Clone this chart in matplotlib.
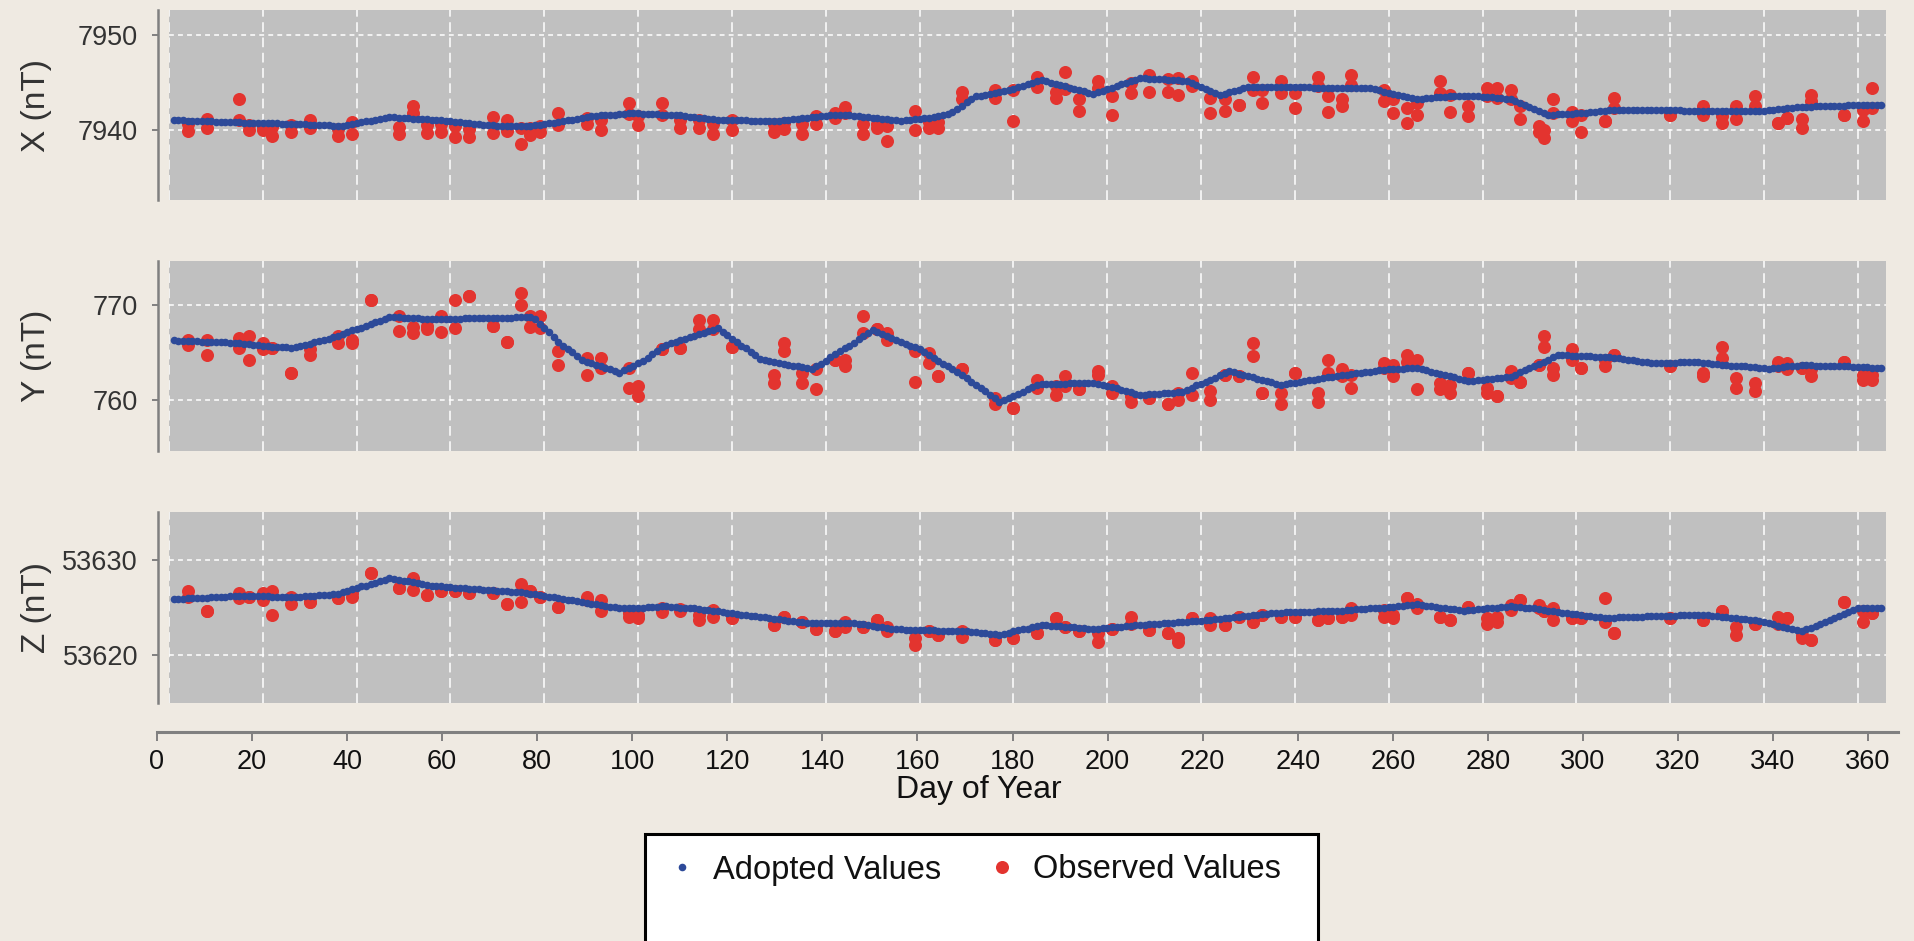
import numpy as np
import matplotlib
matplotlib.use("Agg")
import matplotlib.pyplot as plt
from matplotlib.ticker import MultipleLocator
from matplotlib.patches import Rectangle

plt.rcParams['font.family'] = ['Liberation Sans', 'DejaVu Sans']
plt.rcParams['lines.scale_dashes'] = False

# ---------------------------------------------------------------------------
# Data
# ---------------------------------------------------------------------------
adopted_day = np.arange(1, 366)

x_adopted = [
    7941.0, 7941.0, 7941.0, 7940.9, 7940.9, 7940.9, 7940.9, 7940.9, 7940.9, 7940.8,
    7940.8, 7940.8, 7940.8, 7940.8, 7940.8, 7940.7, 7940.7, 7940.7, 7940.7, 7940.7,
    7940.7, 7940.7, 7940.7, 7940.6, 7940.6, 7940.6, 7940.6, 7940.6, 7940.6, 7940.5,
    7940.5, 7940.5, 7940.5, 7940.5, 7940.4, 7940.4, 7940.4, 7940.5, 7940.6, 7940.7,
    7940.8, 7940.9, 7940.9, 7941.0, 7941.1, 7941.2, 7941.3, 7941.3, 7941.2, 7941.2,
    7941.2, 7941.1, 7941.1, 7941.1, 7941.1, 7941.0, 7941.0, 7941.0, 7940.9, 7940.9,
    7940.8, 7940.8, 7940.7, 7940.7, 7940.6, 7940.6, 7940.5, 7940.5, 7940.5, 7940.4,
    7940.4, 7940.4, 7940.4, 7940.4, 7940.4, 7940.4, 7940.4, 7940.5, 7940.5, 7940.6,
    7940.7, 7940.7, 7940.8, 7940.9, 7941.0, 7941.0, 7941.1, 7941.2, 7941.3, 7941.4,
    7941.4, 7941.5, 7941.5, 7941.6, 7941.6, 7941.7, 7941.7, 7941.8, 7941.8, 7941.8,
    7941.7, 7941.7, 7941.7, 7941.7, 7941.6, 7941.6, 7941.6, 7941.5, 7941.5, 7941.4,
    7941.3, 7941.3, 7941.2, 7941.2, 7941.1, 7941.1, 7941.0, 7941.0, 7941.0, 7941.0,
    7941.0, 7941.0, 7941.0, 7940.9, 7940.9, 7940.9, 7940.9, 7940.9, 7940.9, 7940.9,
    7941.0, 7941.0, 7941.1, 7941.1, 7941.2, 7941.2, 7941.3, 7941.3, 7941.4, 7941.4,
    7941.5, 7941.5, 7941.6, 7941.5, 7941.5, 7941.4, 7941.4, 7941.3, 7941.3, 7941.2,
    7941.2, 7941.1, 7941.1, 7941.0, 7941.0, 7940.9, 7941.0, 7941.0, 7941.1, 7941.1,
    7941.2, 7941.2, 7941.3, 7941.4, 7941.6, 7941.7, 7941.9, 7942.2, 7942.5, 7942.9,
    7943.2, 7943.5, 7943.6, 7943.7, 7943.8, 7943.9, 7944.0, 7944.1, 7944.2, 7944.3,
    7944.5, 7944.6, 7944.8, 7944.9, 7945.1, 7945.2, 7945.1, 7944.9, 7944.8, 7944.7,
    7944.6, 7944.4, 7944.3, 7944.2, 7944.1, 7943.9, 7943.8, 7944.0, 7944.1, 7944.3,
    7944.4, 7944.6, 7944.8, 7944.9, 7945.1, 7945.2, 7945.4, 7945.4, 7945.3, 7945.3,
    7945.3, 7945.3, 7945.2, 7945.2, 7945.2, 7945.1, 7945.1, 7944.9, 7944.7, 7944.5,
    7944.3, 7944.1, 7943.9, 7943.7, 7943.8, 7944.0, 7944.1, 7944.2, 7944.4, 7944.5,
    7944.5, 7944.5, 7944.5, 7944.5, 7944.5, 7944.5, 7944.5, 7944.5, 7944.5, 7944.5,
    7944.5, 7944.5, 7944.5, 7944.4, 7944.4, 7944.4, 7944.4, 7944.4, 7944.4, 7944.4,
    7944.4, 7944.4, 7944.4, 7944.4, 7944.4, 7944.4, 7944.3, 7944.2, 7944.0, 7943.9,
    7943.8, 7943.7, 7943.6, 7943.4, 7943.3, 7943.2, 7943.2, 7943.3, 7943.3, 7943.4,
    7943.4, 7943.4, 7943.5, 7943.5, 7943.6, 7943.6, 7943.6, 7943.5, 7943.5, 7943.4,
    7943.4, 7943.4, 7943.3, 7943.3, 7943.2, 7943.2, 7943.0, 7942.8, 7942.6, 7942.4,
    7942.2, 7942.0, 7941.8, 7941.6, 7941.6, 7941.7, 7941.7, 7941.7, 7941.7, 7941.8,
    7941.8, 7941.8, 7941.9, 7941.9, 7942.0, 7942.0, 7942.1, 7942.1, 7942.1, 7942.1,
    7942.1, 7942.1, 7942.1, 7942.1, 7942.1, 7942.1, 7942.1, 7942.1, 7942.1, 7942.1,
    7942.1, 7942.1, 7942.0, 7942.0, 7942.0, 7942.0, 7942.0, 7942.0, 7942.0, 7942.0,
    7942.0, 7942.0, 7942.0, 7942.0, 7942.0, 7942.0, 7942.0, 7942.0, 7942.0, 7942.0,
    7942.1, 7942.1, 7942.2, 7942.2, 7942.3, 7942.3, 7942.4, 7942.4, 7942.4, 7942.4,
    7942.5, 7942.5, 7942.5, 7942.5, 7942.5, 7942.5, 7942.5, 7942.6, 7942.6, 7942.6,
    7942.6, 7942.6, 7942.6, 7942.6, 7942.6,
]

y_adopted = [
    766.3, 766.2, 766.2, 766.2, 766.2, 766.2, 766.1, 766.1, 766.1, 766.1,
    766.1, 766.1, 766.0, 766.0, 766.0, 765.9, 765.9, 765.8, 765.8, 765.7,
    765.7, 765.6, 765.6, 765.5, 765.5, 765.4, 765.5, 765.7, 765.8, 765.9,
    766.1, 766.2, 766.3, 766.4, 766.6, 766.7, 766.9, 767.1, 767.3, 767.4,
    767.6, 767.8, 768.0, 768.2, 768.3, 768.5, 768.7, 768.7, 768.7, 768.6,
    768.6, 768.6, 768.6, 768.5, 768.5, 768.5, 768.5, 768.5, 768.5, 768.5,
    768.5, 768.5, 768.6, 768.6, 768.6, 768.6, 768.6, 768.6, 768.6, 768.6,
    768.6, 768.6, 768.6, 768.7, 768.7, 768.7, 768.7, 768.5, 768.0, 767.6,
    767.1, 766.6, 766.1, 765.7, 765.3, 765.0, 764.6, 764.2, 764.0, 763.9,
    763.7, 763.5, 763.3, 763.2, 763.0, 762.8, 763.1, 763.3, 763.6, 763.9,
    764.1, 764.4, 764.8, 765.1, 765.5, 765.8, 766.0, 766.1, 766.3, 766.4,
    766.6, 766.7, 766.9, 767.0, 767.2, 767.3, 767.5, 767.1, 766.8, 766.4,
    766.1, 765.7, 765.4, 765.0, 764.7, 764.3, 764.2, 764.1, 764.0, 763.9,
    763.8, 763.7, 763.6, 763.5, 763.4, 763.3, 763.2, 763.5, 763.8, 764.1,
    764.5, 764.8, 765.1, 765.4, 765.7, 766.0, 766.4, 766.7, 767.0, 767.3,
    767.1, 766.9, 766.7, 766.5, 766.3, 766.1, 765.9, 765.7, 765.5, 765.3,
    765.0, 764.7, 764.4, 764.1, 763.8, 763.5, 763.2, 762.9, 762.6, 762.3,
    761.9, 761.6, 761.2, 760.9, 760.5, 760.2, 759.8, 760.0, 760.2, 760.4,
    760.6, 760.8, 761.1, 761.3, 761.5, 761.7, 761.7, 761.7, 761.7, 761.7,
    761.7, 761.8, 761.8, 761.8, 761.8, 761.8, 761.8, 761.7, 761.5, 761.4,
    761.3, 761.2, 761.0, 760.9, 760.8, 760.6, 760.5, 760.5, 760.6, 760.6,
    760.6, 760.7, 760.7, 760.7, 760.8, 760.8, 761.0, 761.2, 761.5, 761.7,
    761.9, 762.1, 762.3, 762.6, 762.8, 763.0, 762.9, 762.7, 762.6, 762.5,
    762.4, 762.2, 762.1, 762.0, 761.9, 761.7, 761.6, 761.7, 761.8, 761.8,
    761.9, 762.0, 762.1, 762.1, 762.2, 762.3, 762.4, 762.4, 762.5, 762.6,
    762.6, 762.7, 762.8, 762.8, 762.9, 762.9, 763.0, 763.1, 763.1, 763.2,
    763.2, 763.2, 763.2, 763.3, 763.3, 763.3, 763.2, 763.1, 762.9, 762.8,
    762.7, 762.6, 762.5, 762.4, 762.2, 762.1, 762.0, 762.0, 762.1, 762.1,
    762.2, 762.2, 762.3, 762.3, 762.4, 762.4, 762.6, 762.9, 763.1, 763.3,
    763.6, 763.8, 764.0, 764.2, 764.5, 764.7, 764.7, 764.7, 764.6, 764.6,
    764.6, 764.6, 764.6, 764.5, 764.5, 764.5, 764.5, 764.4, 764.4, 764.3,
    764.2, 764.2, 764.1, 764.0, 764.0, 763.9, 763.9, 763.9, 763.9, 763.9,
    763.9, 764.0, 764.0, 764.0, 764.0, 764.0, 763.9, 763.9, 763.8, 763.8,
    763.7, 763.7, 763.6, 763.6, 763.5, 763.5, 763.4, 763.4, 763.3, 763.3,
    763.2, 763.3, 763.3, 763.4, 763.5, 763.6, 763.6, 763.7, 763.7, 763.7,
    763.6, 763.6, 763.6, 763.6, 763.5, 763.5, 763.5, 763.5, 763.4, 763.4,
    763.4, 763.4, 763.3, 763.3, 763.3,
]

z_adopted = [
    53625.9, 53625.9, 53625.9, 53626.0, 53626.0, 53626.0, 53626.0, 53626.0, 53626.1, 53626.1,
    53626.1, 53626.1, 53626.2, 53626.2, 53626.2, 53626.2, 53626.2, 53626.2, 53626.2, 53626.2,
    53626.2, 53626.1, 53626.1, 53626.1, 53626.1, 53626.1, 53626.1, 53626.1, 53626.2, 53626.2,
    53626.2, 53626.3, 53626.3, 53626.3, 53626.4, 53626.4, 53626.6, 53626.7, 53626.9, 53627.0,
    53627.2, 53627.3, 53627.5, 53627.6, 53627.8, 53627.9, 53628.1, 53628.0, 53627.9, 53627.8,
    53627.8, 53627.7, 53627.6, 53627.5, 53627.4, 53627.3, 53627.3, 53627.2, 53627.1, 53627.1,
    53627.0, 53627.0, 53627.0, 53626.9, 53626.9, 53626.9, 53626.8, 53626.8, 53626.8, 53626.7,
    53626.7, 53626.7, 53626.6, 53626.6, 53626.6, 53626.5, 53626.4, 53626.4, 53626.3, 53626.2,
    53626.1, 53626.1, 53626.0, 53625.9, 53625.8, 53625.8, 53625.7, 53625.6, 53625.5, 53625.4,
    53625.4, 53625.3, 53625.2, 53625.1, 53625.1, 53625.0, 53624.9, 53624.9, 53625.0, 53625.0,
    53625.0, 53625.1, 53625.1, 53625.1, 53625.2, 53625.2, 53625.1, 53625.1, 53625.0, 53625.0,
    53624.9, 53624.9, 53624.8, 53624.7, 53624.7, 53624.6, 53624.6, 53624.5, 53624.4, 53624.4,
    53624.3, 53624.2, 53624.2, 53624.1, 53624.1, 53624.0, 53624.0, 53623.9, 53623.8, 53623.8,
    53623.7, 53623.6, 53623.6, 53623.5, 53623.5, 53623.4, 53623.4, 53623.4, 53623.4, 53623.4,
    53623.4, 53623.4, 53623.4, 53623.4, 53623.4, 53623.4, 53623.3, 53623.3, 53623.2, 53623.1,
    53623.0, 53623.0, 53622.9, 53622.8, 53622.7, 53622.7, 53622.6, 53622.6, 53622.6, 53622.6,
    53622.6, 53622.6, 53622.6, 53622.5, 53622.5, 53622.5, 53622.5, 53622.5, 53622.5, 53622.5,
    53622.4, 53622.4, 53622.3, 53622.3, 53622.2, 53622.2, 53622.1, 53622.2, 53622.3, 53622.5,
    53622.6, 53622.7, 53622.8, 53623.0, 53623.1, 53623.2, 53623.2, 53623.1, 53623.1, 53623.1,
    53623.0, 53623.0, 53623.0, 53622.9, 53622.9, 53622.8, 53622.8, 53622.8, 53622.9, 53622.9,
    53623.0, 53623.0, 53623.0, 53623.1, 53623.1, 53623.2, 53623.2, 53623.2, 53623.3, 53623.3,
    53623.3, 53623.4, 53623.4, 53623.4, 53623.5, 53623.5, 53623.5, 53623.6, 53623.6, 53623.6,
    53623.7, 53623.7, 53623.8, 53623.8, 53623.9, 53623.9, 53624.0, 53624.0, 53624.1, 53624.1,
    53624.2, 53624.2, 53624.3, 53624.3, 53624.4, 53624.4, 53624.4, 53624.5, 53624.5, 53624.5,
    53624.5, 53624.5, 53624.5, 53624.5, 53624.6, 53624.6, 53624.6, 53624.6, 53624.6, 53624.6,
    53624.7, 53624.7, 53624.8, 53624.8, 53624.8, 53624.9, 53624.9, 53625.0, 53625.0, 53625.1,
    53625.1, 53625.2, 53625.2, 53625.3, 53625.3, 53625.4, 53625.3, 53625.2, 53625.2, 53625.1,
    53625.0, 53624.9, 53624.8, 53624.8, 53624.7, 53624.6, 53624.7, 53624.7, 53624.8, 53624.8,
    53624.9, 53625.0, 53625.0, 53625.1, 53625.1, 53625.2, 53625.1, 53625.1, 53625.0, 53624.9,
    53624.9, 53624.8, 53624.7, 53624.6, 53624.6, 53624.5, 53624.4, 53624.4, 53624.3, 53624.3,
    53624.2, 53624.1, 53624.1, 53624.0, 53624.0, 53623.9, 53623.9, 53623.9, 53624.0, 53624.0,
    53624.0, 53624.0, 53624.0, 53624.0, 53624.1, 53624.1, 53624.1, 53624.1, 53624.1, 53624.1,
    53624.1, 53624.2, 53624.2, 53624.2, 53624.2, 53624.2, 53624.2, 53624.2, 53624.1, 53624.1,
    53624.0, 53624.0, 53623.9, 53623.9, 53623.8, 53623.8, 53623.7, 53623.7, 53623.6, 53623.5,
    53623.4, 53623.3, 53623.1, 53623.0, 53622.9, 53622.8, 53622.6, 53622.5, 53622.7, 53622.9,
    53623.1, 53623.3, 53623.5, 53623.7, 53623.9, 53624.1, 53624.3, 53624.5, 53624.7, 53624.9,
    53624.9, 53624.9, 53624.9, 53624.9, 53624.9,
]

# Days on which absolute observations were taken (two measurements per day)
obs_day = [
    4, 8, 15, 17, 20, 22, 26, 30, 36, 39,
    43, 49, 52, 55, 58, 61, 64, 69, 72, 75,
    77, 79, 83, 89, 92, 98, 100, 105, 109, 113,
    116, 120, 129, 131, 135, 138, 142, 144, 148, 151,
    153, 159, 162, 164, 169, 176, 180, 185, 189, 191,
    194, 198, 201, 205, 209, 213, 215, 218, 222, 225,
    228, 231, 233, 237, 240, 245, 247, 250, 252, 259,
    261, 264, 266, 271, 273, 277, 281, 283, 286, 288,
    292, 293, 295, 299, 301, 306, 308, 320, 327, 331,
    334, 338, 343, 345, 348, 350, 357, 361, 363,
]

nan = np.nan
x_obs_first = [
    7940.6, 7941.1, 7943.2, 7940.5, 7940.3, 7940.3, 7940.5, 7941.0, 7940.1, 7940.8,
    nan, 7940.3, 7942.5, 7940.5, 7940.6, 7940.4, 7940.1, 7941.3, 7941.0, 7940.2,
    7940.2, 7940.4, 7941.8, 7941.2, 7941.0, 7942.8, 7941.4, 7942.8, 7941.0, 7941.0,
    7940.6, 7941.0, 7940.6, 7940.7, 7940.6, 7941.4, 7941.8, 7942.4, 7940.6, 7940.6,
    7940.4, 7942.0, 7940.8, 7940.8, 7944.0, 7944.2, 7944.2, 7945.6, 7944.0, 7946.1,
    7943.2, 7945.1, 7943.5, 7944.9, 7945.8, 7945.3, 7945.4, 7945.1, 7943.3, 7943.2,
    7942.6, 7945.6, 7944.2, 7945.1, 7943.9, 7945.6, 7943.5, 7943.2, 7945.8, 7944.2,
    7943.2, 7942.3, 7942.8, 7945.1, 7943.7, 7942.5, 7944.4, 7944.4, 7944.2, 7942.5,
    7940.4, 7940.0, 7943.2, 7941.9, 7941.6, 7940.9, 7943.3, 7941.6, 7942.5, 7941.4,
    7942.5, 7943.5, 7940.7, 7941.2, 7941.1, 7943.7, 7941.6, 7942.1, 7944.4,
]
x_obs_second = [
    7939.9, 7940.2, 7941.0, 7940.0, 7940.0, 7939.3, 7939.8, 7940.2, 7939.3, 7939.6,
    nan, 7939.6, 7941.8, 7939.7, 7939.8, 7939.2, 7939.2, 7939.7, 7939.9, 7938.5,
    7939.4, 7939.8, 7940.5, 7940.6, 7940.0, 7941.7, 7940.5, 7941.5, 7940.2, 7940.2,
    7939.6, 7940.0, 7939.8, 7940.1, 7939.6, 7940.6, 7941.2, 7941.8, 7939.6, 7940.2,
    7938.8, 7940.0, 7940.2, 7940.2, 7943.2, 7943.3, 7940.9, 7944.5, 7943.3, 7944.3,
    7942.0, 7944.4, 7941.6, 7943.9, 7944.0, 7944.0, 7943.7, 7944.6, 7941.8, 7942.0,
    7942.6, 7944.2, 7942.8, 7943.9, 7942.3, 7944.6, 7941.9, 7942.5, 7944.7, 7943.0,
    7941.8, 7940.7, 7941.6, 7943.9, 7941.9, 7941.4, 7943.5, 7943.3, 7943.2, 7941.1,
    7939.8, 7939.1, 7941.8, 7940.9, 7939.8, 7940.9, 7942.3, 7941.6, 7941.6, 7940.7,
    7941.1, 7942.5, 7940.7, 7941.2, 7940.2, 7943.0, 7941.6, 7940.9, 7942.3,
]

y_obs_first = [
    766.3, 766.3, 766.5, 766.7, 766.0, 765.4, 762.8, 765.3, 766.7, 766.3,
    770.5, 768.8, 767.7, 767.8, 768.8, 770.5, 770.9, 767.8, 766.1, 771.2,
    768.8, 768.8, 765.1, 764.4, 764.4, 763.3, 761.4, 765.3, 765.4, 768.4,
    768.4, 765.6, 762.6, 766.0, 762.8, 763.2, 764.2, 764.2, 768.8, 767.4,
    767.0, 765.1, 764.9, 762.5, 763.2, 760.2, 759.1, 762.1, 761.4, 762.5,
    761.1, 763.0, 761.4, 760.4, 760.2, 759.6, 760.7, 762.8, 760.9, 762.6,
    762.5, 766.0, 760.7, 760.7, 762.8, 760.7, 764.2, 763.2, 762.6, 763.9,
    763.7, 764.7, 764.2, 761.8, 761.6, 762.8, 761.2, 760.4, 763.0, 761.9,
    763.7, 766.7, 763.3, 765.3, 763.3, 764.2, 764.7, 763.5, 762.8, 765.6,
    762.3, 761.8, 764.0, 763.9, 763.3, 763.2, 764.0, 762.6, 762.6,
]
y_obs_second = [
    765.8, 764.7, 765.4, 764.2, 765.3, 765.4, 762.8, 764.7, 766.0, 766.0,
    770.5, 767.2, 767.0, 767.4, 767.1, 767.5, 770.9, 767.8, 766.1, 770.0,
    767.7, 767.5, 763.7, 762.6, 763.3, 761.2, 760.4, 765.3, 765.4, 767.4,
    767.4, 765.6, 761.8, 765.1, 761.8, 761.1, 764.2, 763.5, 767.0, 767.4,
    766.3, 761.9, 763.9, 762.5, 763.2, 759.6, 759.1, 761.2, 760.5, 761.4,
    761.1, 762.6, 760.7, 759.8, 760.2, 759.6, 760.0, 760.5, 760.0, 762.6,
    762.5, 764.6, 760.7, 759.5, 762.8, 759.8, 762.8, 762.5, 761.2, 763.3,
    762.5, 764.0, 761.1, 761.1, 760.7, 762.8, 760.7, 760.4, 762.3, 761.9,
    763.7, 765.6, 762.6, 764.2, 763.3, 763.5, 764.7, 763.5, 762.5, 764.4,
    761.2, 760.9, 763.5, 763.2, 763.3, 762.5, 764.0, 762.1, 762.1,
]

z_obs_first = [
    53626.7, 53624.6, 53626.5, 53626.1, 53626.5, 53626.7, 53626.1, 53625.6, 53626.0, 53626.5,
    53628.6, 53627.0, 53628.1, 53626.3, 53626.7, 53626.7, 53626.5, 53626.5, 53625.4, 53627.5,
    53626.7, 53626.1, 53625.1, 53626.1, 53625.8, 53624.4, 53624.2, 53625.0, 53624.8, 53624.2,
    53624.7, 53623.9, 53623.2, 53624.0, 53623.5, 53622.8, 53622.5, 53623.5, 53623.0, 53623.7,
    53623.0, 53621.8, 53622.5, 53622.1, 53622.5, 53621.6, 53621.8, 53622.3, 53623.9, 53623.0,
    53622.5, 53622.3, 53622.8, 53624.0, 53622.6, 53622.3, 53621.8, 53623.9, 53623.9, 53623.2,
    53624.0, 53623.5, 53624.2, 53624.0, 53624.0, 53623.7, 53623.9, 53624.0, 53624.9, 53624.7,
    53624.2, 53626.0, 53625.4, 53624.0, 53623.7, 53625.1, 53623.9, 53624.0, 53625.3, 53625.8,
    53625.3, 53624.6, 53624.9, 53623.9, 53623.9, 53626.0, 53622.3, 53623.9, 53623.7, 53624.6,
    53623.0, 53623.3, 53624.0, 53623.9, 53622.1, 53621.6, 53625.6, 53624.6, 53624.4,
]
z_obs_second = [
    53626.1, 53624.6, 53626.0, 53626.1, 53625.8, 53624.2, 53625.4, 53625.6, 53626.0, 53626.1,
    53628.6, 53627.0, 53626.8, 53626.3, 53626.7, 53626.7, 53626.5, 53626.5, 53625.4, 53625.6,
    53626.7, 53626.1, 53625.1, 53625.8, 53624.6, 53624.0, 53623.9, 53624.5, 53624.6, 53623.7,
    53624.0, 53623.9, 53623.2, 53624.0, 53623.5, 53622.8, 53622.5, 53623.0, 53623.0, 53623.7,
    53622.5, 53621.1, 53622.5, 53622.1, 53621.9, 53621.6, 53621.8, 53622.3, 53623.9, 53623.0,
    53622.5, 53621.4, 53622.8, 53623.3, 53622.6, 53622.3, 53621.4, 53623.9, 53623.2, 53623.2,
    53624.0, 53623.5, 53624.2, 53624.0, 53624.0, 53623.7, 53623.9, 53624.0, 53624.2, 53624.0,
    53623.9, 53626.0, 53624.9, 53624.0, 53623.7, 53625.1, 53623.3, 53623.5, 53624.7, 53625.8,
    53624.9, 53624.6, 53623.7, 53623.9, 53623.9, 53623.5, 53622.3, 53623.9, 53623.7, 53624.6,
    53622.1, 53623.3, 53623.3, 53623.9, 53621.8, 53621.6, 53625.6, 53623.5, 53624.4,
]

component_labels = ['X (nT)', 'Y (nT)', 'Z (nT)']
day_ticks = list(range(0, 361, 20))
legend_labels = ['Adopted Values', 'Observed Values']

for seq in (x_adopted, y_adopted, z_adopted):
    assert len(seq) == len(adopted_day)
for seq in (x_obs_first, x_obs_second, y_obs_first, y_obs_second, z_obs_first, z_obs_second):
    assert len(seq) == len(obs_day)

# ---------------------------------------------------------------------------
# Styling
# ---------------------------------------------------------------------------
BG = '#EFEAE2'
PANEL = '#C0C0C0'
RED = '#E3342F'
BLUE = '#2D4A99'
AXIS_GREY = '#808080'
TXT = '#333333'

W, H = 1914, 941
fig = plt.figure(figsize=(W / 100, H / 100), dpi=100, facecolor=BG)


def px_rect(left, top, right, bottom):
    return [left / W, 1 - bottom / H, (right - left) / W, (bottom - top) / H]


panel_specs = [
    (x_adopted, x_obs_first, x_obs_second, (7932.6, 7952.6), (10, 200)),
    (y_adopted, y_obs_first, y_obs_second, (754.6, 774.6), (261, 451)),
    (z_adopted, z_obs_first, z_obs_second, (53615.0, 53635.0), (512, 703)),
]

handles = None
for label, (adopted, obs_a, obs_b, ylim, (top, bottom)) in zip(component_labels, panel_specs):
    ax = fig.add_axes(px_rect(169, top, 1886, bottom))
    ax.set_facecolor(PANEL)
    ax.set_xlim(0, 366)
    ax.set_ylim(*ylim)
    ax.set_xticks(day_ticks)
    ax.yaxis.set_major_locator(MultipleLocator(10))
    ax.tick_params(axis='x', bottom=False, labelbottom=False)
    ax.tick_params(axis='y', length=4.3, width=1.4, color=AXIS_GREY,
                   labelsize=19.5, labelcolor=TXT, pad=10)
    for side in ('top', 'right', 'bottom'):
        ax.spines[side].set_visible(False)
    ax.spines['left'].set_position(('outward', 8))
    ax.spines['left'].set_color(AXIS_GREY)
    ax.spines['left'].set_linewidth(1.8)

    ax.set_axisbelow(True)
    ax.xaxis.grid(True, color='white', linewidth=1.1, linestyle=(0, (7, 4)))
    ax.yaxis.grid(True, color='white', linewidth=1.1, linestyle=(0, (3.5, 3)))

    obs = ax.scatter(obs_day, obs_a, s=88, color=RED, linewidths=0, zorder=2)
    ax.scatter(obs_day, obs_b, s=88, color=RED, linewidths=0, zorder=2)
    adp = ax.scatter(adopted_day, adopted, s=30, color=BLUE, linewidths=0, zorder=3)
    if handles is None:
        handles = [adp, obs]

    fig.text(37 / W, 1 - (top + bottom) / 2 / H, label, rotation=90,
             ha='center', va='center', fontsize=24, color=TXT)

# Shared day-of-year axis below the panels
axb = fig.add_axes([157 / W, 1 - 732 / H, (1898 - 157) / W, 1 / H])
axb.set_facecolor('none')
axb.set_xlim(0, 366.3)
axb.set_xticks(day_ticks)
axb.set_yticks([])
for side in ('top', 'right', 'left'):
    axb.spines[side].set_visible(False)
axb.spines['bottom'].set_color(AXIS_GREY)
axb.spines['bottom'].set_linewidth(2.2)
axb.tick_params(axis='x', length=6.5, width=1.4, color=AXIS_GREY,
                labelsize=19.5, labelcolor='#111111', pad=6)

fig.text(979 / W, 1 - 798 / H, 'Day of Year', ha='center', va='baseline',
         fontsize=23, color='#111111')

# Legend box (runs off the bottom edge of the figure)
frame = Rectangle((645 / W, -0.05), (1318 - 645) / W, (1 - 834 / H) + 0.05,
                  transform=fig.transFigure, facecolor='white', edgecolor='black',
                  linewidth=2.2, clip_on=False, zorder=5)
fig.add_artist(frame)
leg = fig.legend(handles=handles, labels=legend_labels, loc='center',
                 bbox_to_anchor=(974.5 / W, 1 - 870 / H), ncol=2, frameon=False,
                 fontsize=23.5, handlelength=0.8, handletextpad=0.55,
                 columnspacing=1.47, borderpad=0, scatterpoints=1,
                 scatteryoffsets=[0.5])
leg.set_zorder(6)
for t in leg.get_texts():
    t.set_color('#111111')

fig.savefig('out.png', dpi=100, facecolor=BG)
